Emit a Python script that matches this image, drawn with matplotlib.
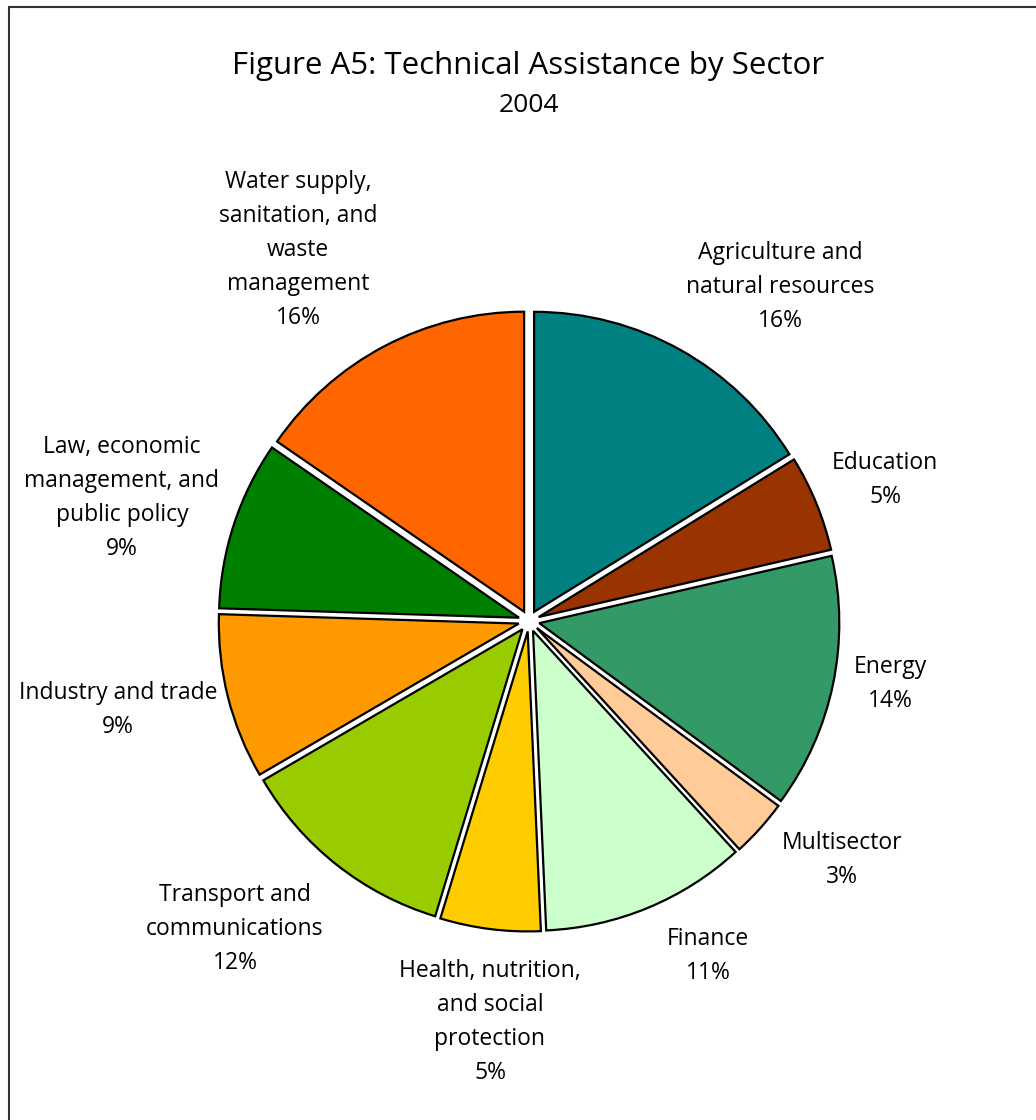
import matplotlib.pyplot as plt
from matplotlib.patches import Rectangle

# sector shares, 2004 (percent)
sectors = ["Agriculture and\nnatural resources", "Education", "Energy", "Multisector",
           "Finance", "Health, nutrition,\nand social\nprotection",
           "Transport and\ncommunications", "Industry and trade",
           "Law, economic\nmanagement, and\npublic policy",
           "Water supply,\nsanitation, and\nwaste\nmanagement"]
shares = [16.2, 5.2, 13.7, 3.1, 11.1, 5.4, 11.9, 8.9, 9.1, 15.4]
pct_labels = ["16%", "5%", "14%", "3%", "11%", "5%", "12%", "9%", "9%", "16%"]
colors = ["#008080", "#993300", "#339966", "#FFCC99", "#CCFFCC",
          "#FFCC00", "#99CC00", "#FF9900", "#008000", "#FF6600"]

# label centres in pixels (x from left, y from top)
label_px = [(780, 287), (885, 480), (890, 684), (842, 860), (708, 956),
            (490, 1022), (235, 929), (118, 710), (122, 498), (298, 250)]

W, H = 1036, 1120
cx, cy, R = 529, 621, 300

plt.rcParams['font.family'] = ['Open Sans', 'DejaVu Sans']

fig = plt.figure(figsize=(W / 100, H / 100), dpi=100)
ax = fig.add_axes([0, 0, 1, 1])

ax.pie(shares, colors=colors, startangle=90, counterclock=False,
       explode=[0.035] * len(shares),
       wedgeprops=dict(edgecolor="black", linewidth=1.6))

ax.set_xlim(-cx / R, (W - cx) / R)
ax.set_ylim(-(H - cy) / R, cy / R)
ax.set_aspect('equal')
ax.axis('off')

for name, pct, (px, py) in zip(sectors, pct_labels, label_px):
    ax.text((px - cx) / R, (cy - py) / R, name + "\n" + pct,
            ha='center', va='center', fontsize=16.5, linespacing=1.55)

fig.text(528 / W, 1 - 66 / H, "Figure A5: Technical Assistance by Sector",
         ha='center', va='center', fontsize=22.5)
fig.text(529 / W, 1 - 106 / H, "2004", ha='center', va='center', fontsize=19)

# frame around the figure (only left and top edges are visible)
fig.patches.append(Rectangle((8.5 / W, -0.1), 1.2, 1.1 - 7 / H,
                             transform=fig.transFigure, fill=False,
                             edgecolor="#333333", linewidth=1.5))

fig.savefig("out.png", dpi=100)
